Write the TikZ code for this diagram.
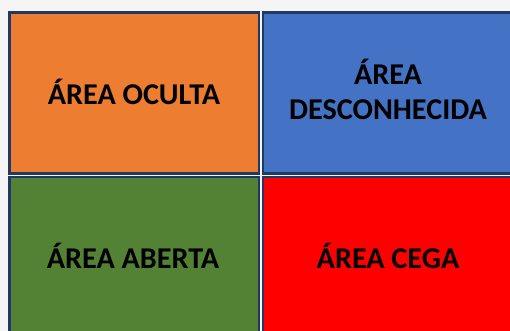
\documentclass[tikz,border=0pt]{standalone}
\usepackage{fontspec}
\setmainfont{Carlito}
\definecolor{bggray}{HTML}{F5F5F5}
\definecolor{navy}{HTML}{1F3864}
\definecolor{corange}{HTML}{ED7D31}
\definecolor{cblue}{HTML}{4472C4}
\definecolor{cgreen}{HTML}{548235}
\definecolor{cred}{HTML}{FF0000}
\begin{document}
\begin{tikzpicture}[x=1pt,y=-1pt,
  cell/.style={draw=navy,line width=2.6pt},
  lbl/.style={font=\fontsize{30.2}{35}\selectfont\bfseries,text=black,anchor=base,align=center,inner sep=0pt}]
\useasboundingbox (0,0) rectangle (510,331);
\fill[bggray] (0,0) rectangle (510,331);
\clip (0,0) rectangle (510,331);
\draw[cell,fill=corange] (9.3,12.3) rectangle (259,173.3);
\draw[cell,fill=cblue] (263,12.3) rectangle (520,173.3);
\draw[cell,fill=cgreen] (9.3,177) rectangle (259,340);
\draw[cell,fill=cred] (263,177) rectangle (520,340);
\node[lbl] (oculta) at (134,105) {ÁREA OCULTA};
\node[lbl] (desconhecida) at (388,120) {ÁREA\\DESCONHECIDA};
\node[lbl] (aberta) at (133,268) {ÁREA ABERTA};
\node[lbl] (cega) at (388,268) {ÁREA CEGA};
\end{tikzpicture}
\end{document}
